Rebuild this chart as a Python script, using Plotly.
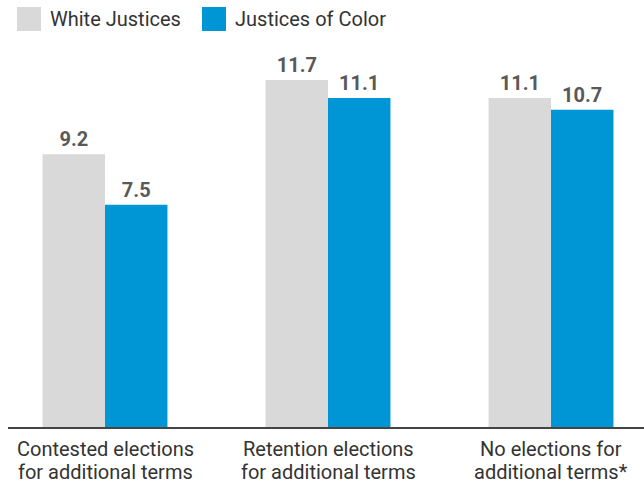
import plotly.graph_objects as go

categories = ["Contested elections<br>for additional terms",
              "Retention elections<br>for additional terms",
              "No elections for<br>additional terms*"]
white_justices = [9.2, 11.7, 11.1]
justices_of_color = [7.5, 11.1, 10.7]
series_names = ["White Justices", "Justices of Color"]
colors = ["#d9d9d9", "#0096d6"]

W, H = 644, 487
ML, MR, MT, MB = 8, 0, 40, 60
pw, ph = W - ML - MR, H - MT - MB

def px(x):
    return (x - ML) / pw

def py(y):
    return (H - MB - y) / ph

fig = go.Figure()
for name, vals, col in zip(series_names, [white_justices, justices_of_color], colors):
    fig.add_trace(go.Bar(
        x=categories, y=vals, name=name, marker_color=col, marker_line_width=0,
        texttemplate="%{y:.1f}", textposition="outside",
        textfont=dict(family="Roboto", size=20, color="#595959", weight="bold"),
        cliponaxis=False, showlegend=False,
    ))

# manual legend
leg_x = [17, 202]
for i, (name, col) in enumerate(zip(series_names, colors)):
    x0 = leg_x[i]
    fig.add_shape(type="rect", xref="paper", yref="paper",
                  x0=px(x0), x1=px(x0 + 24), y0=py(31), y1=py(7),
                  fillcolor=col, line_width=0)
    fig.add_annotation(xref="paper", yref="paper", x=px(x0 + 31), y=py(19),
                       text=name, showarrow=False, xanchor="left", yanchor="middle",
                       font=dict(family="Roboto", size=20, color="#333333"))

# category labels, one annotation per line for tight line spacing
line_y = [448.5, 472.2]
for cat in categories:
    for j, part in enumerate(cat.split("<br>")):
        fig.add_annotation(xref="x", yref="paper", x=cat, y=py(line_y[j]),
                           text=part, showarrow=False, xanchor="center", yanchor="middle",
                           font=dict(family="Roboto", size=20, color="#333333"))

fig.update_layout(
    width=W, height=H, margin=dict(l=ML, r=MR, t=MT, b=MB),
    paper_bgcolor="white", plot_bgcolor="white",
    barmode="group", bargap=0.44, bargroupgap=0,
    showlegend=False,
    font=dict(family="Roboto", color="#333333"),
)
fig.update_xaxes(range=[-0.435, 2.417], showline=True, linecolor="#444444", linewidth=1.5,
                 ticks="", showticklabels=False, showgrid=False, fixedrange=True)
fig.update_yaxes(range=[0, (H - MT - MB) / 29.65], visible=False, showgrid=False, zeroline=False)

fig.write_html("out.html")
